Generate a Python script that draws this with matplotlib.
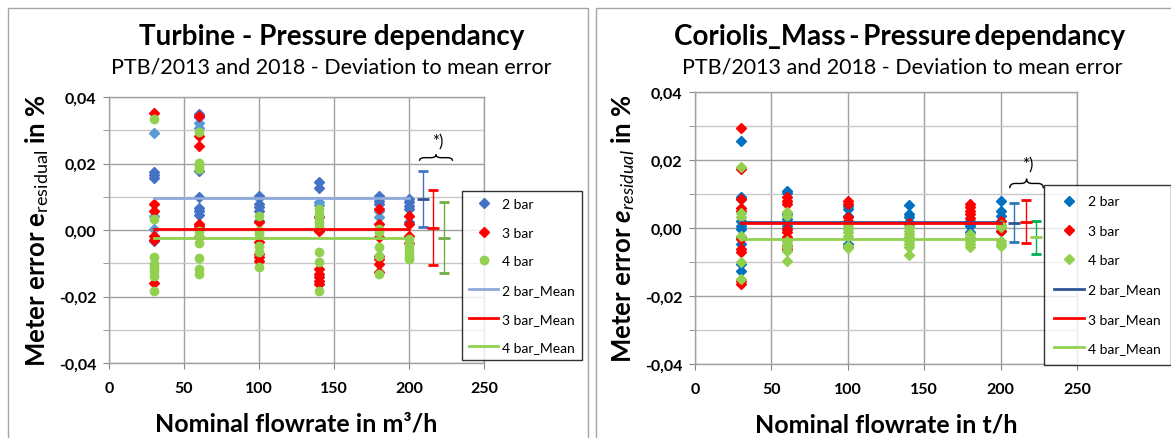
import matplotlib
matplotlib.use("Agg")
import matplotlib.pyplot as plt
from matplotlib.path import Path
from matplotlib.patches import PathPatch
from matplotlib.lines import Line2D
from matplotlib.ticker import MultipleLocator, FuncFormatter

plt.rcParams['font.family'] = ['Lato', 'DejaVu Sans']
plt.rcParams['mathtext.fontset'] = 'custom'
plt.rcParams['mathtext.rm'] = 'Lato'
plt.rcParams['mathtext.it'] = 'Lato:italic'
plt.rcParams['mathtext.bf'] = 'Lato:bold'
plt.rcParams['mathtext.bfit'] = 'Lato:bold:italic'

# ---------------- data ----------------
flows = [30, 60, 100, 140, 180, 200]

# Turbine (left)
turb_2bar_dark = [[0.0174, 0.0165, 0.0155, -0.0032],
                  [0.0349, 0.0339, 0.0178, 0.0098, 0.0065, 0.0058, 0.0045],
                  [0.0101, 0.0078, 0.0068, 0.0058, 0.0028],
                  [0.0143, 0.0125, 0.0038],
                  [0.0103, 0.0088, 0.0078],
                  [0.0093, 0.0083, 0.0073, 0.0063, 0.0023]]
turb_2bar_light = [[0.0291, 0.0042, 0.0003],
                   [0.0321, 0.0306],
                   [0.0096],
                   [0.0083, 0.0075],
                   [0.0058, 0.0038],
                   []]
turb_3bar = [[0.0352, 0.0078, 0.0058, -0.0017, -0.0029, -0.0159],
             [0.0342, 0.0284, 0.0252, 0.0018, 0.0011, -0.0022],
             [0.0023, -0.0037, -0.0072, -0.0082, -0.0092],
             [0.0038, -0.0002, -0.0117, -0.0132, -0.0142, -0.0152, -0.0162],
             [0.0063, 0.0018, -0.0022, -0.0077, -0.0087, -0.0102, -0.0127],
             [0.0041, 0.0018, -0.0017, -0.0039]]
turb_4bar = [[0.0334, 0.0033, -0.0080, -0.0102, -0.0111, -0.0122, -0.0138, -0.0182],
             [0.0294, 0.0202, 0.0193, 0.0183, -0.0002, -0.0017, -0.0039, -0.0085, -0.0117, -0.0132],
             [0.0043, -0.0002, -0.0012, -0.0047, -0.0066, -0.0112],
             [0.0063, 0.0048, 0.0038, 0.0023, 0.0013, -0.0067, -0.0097, -0.0182],
             [0.0003, -0.0007, -0.0052, -0.0077, -0.0132],
             [-0.0027, -0.0042, -0.0055, -0.0067, -0.0077, -0.0087]]
turb_means = [0.0097, 0.0003, -0.0024]
turb_err_x = [209, 216, 223]
turb_err_center = [0.0094, 0.0007, -0.0023]
turb_err_half = [0.0084, 0.0112, 0.0107]

# Coriolis (right)
cor_2bar = [[0.0257, 0.0090, 0.0085, 0.0021, 0.0007, -0.0003, -0.0027, -0.0047, -0.0106, -0.0126],
            [0.0110, 0.0103, 0.0041, 0.0026, 0.0007, -0.0003],
            [0.0066, 0.0056, 0.0036, -0.0047],
            [0.0068, 0.0041, 0.0031, 0.0019, 0.0012],
            [0.0021, 0.0012, 0.0007, -0.0013],
            [0.0080, 0.0051, 0.0036, -0.0008]]
cor_3bar = [[0.0293, 0.0174, 0.0085, 0.0058, 0.0051, -0.0032, -0.0062, -0.0070, -0.0155, -0.0165],
            [0.0090, 0.0080, 0.0071, -0.0003, -0.0013, -0.0027, -0.0052, -0.0062],
            [0.0080, 0.0071, 0.0031, 0.0021, -0.0055],
            [0.0015],
            [0.0071, 0.0061, 0.0051, 0.0041, 0.0028],
            [0.0021, -0.0008]]
cor_4bar = [[0.0180, 0.0044, 0.0031, -0.0023, -0.0101, -0.0150],
            [0.0046, 0.0036, -0.0037, -0.0047, -0.0057, -0.0067, -0.0096],
            [0.0007, -0.0003, -0.0013, -0.0023, -0.0052, -0.0060],
            [0.0002, -0.0008, -0.0018, -0.0027, -0.0037, -0.0047, -0.0057, -0.0079],
            [-0.0018, -0.0027, -0.0037, -0.0047, -0.0057],
            [0.0009, 0.0002, -0.0037, -0.0047, -0.0052]]
cor_means = [0.0017, 0.0016, -0.0032]
cor_err_x = [209, 216.5, 223]
cor_err_center = [0.0016, 0.0019, -0.0027]
cor_err_half = [0.0058, 0.0064, 0.0048]

series_labels = ["2 bar", "3 bar", "4 bar"]
mean_labels = ["2 bar_Mean", "3 bar_Mean", "4 bar_Mean"]
yticks = [-0.04, -0.02, 0.0, 0.02, 0.04]
xticks = [0, 50, 100, 150, 200, 250]


def flatten(groups):
    xs, ys = [], []
    for f, vals in zip(flows, groups):
        xs += [f] * len(vals)
        ys += vals
    return xs, ys


W, H = 1171, 439
fig = plt.figure(figsize=(W / 100, H / 100), dpi=100)


def fx(px):
    return px / W


def fy(py):
    return 1 - py / H


# panel frames
frame_col = "#A6A6A6"
for (x0, x1) in [(8, 588), (596, 1180)]:
    fig.add_artist(Line2D([fx(x0), fx(x0), fx(x1), fx(x1)],
                          [fy(445), fy(9), fy(9), fy(445)],
                          color=frame_col, lw=1.0, transform=fig.transFigure))

ax1 = fig.add_axes([fx(109), fy(364), fx(484) - fx(109), fy(98) - fy(364)])
ax2 = fig.add_axes([fx(695), fy(365), fx(1077) - fx(695), fy(93) - fy(365)])


def style_axis(ax):
    ax.set_xlim(0, 250)
    ax.set_ylim(-0.04, 0.04)
    ax.set_xticks(xticks)
    ax.set_yticks(yticks)
    ax.yaxis.set_minor_locator(MultipleLocator(0.01))
    ax.yaxis.set_major_formatter(FuncFormatter(lambda v, p: f"{v:.2f}".replace(".", ",").replace("-0,00", "0,00")))
    ax.grid(True, which="major", axis="both", color="#A0A0A0", lw=1.0, zorder=0)
    ax.grid(True, which="minor", axis="y", color="#C8C8C8", lw=1.0, zorder=0)
    ax.set_axisbelow(True)
    for s in ax.spines.values():
        s.set_color("#A0A0A0")
        s.set_linewidth(1.0)
    ax.tick_params(axis="both", which="major", direction="out", length=4, color="#868686",
                   labelsize=11.5, pad=5)
    ax.tick_params(axis="y", which="minor", direction="out", length=4, color="#868686")
    ax.tick_params(axis="x", which="major", pad=9)
    for lab in ax.get_xticklabels() + ax.get_yticklabels():
        lab.set_fontweight("bold")


def draw_brace(ax, x0, x1, ybase, ytip, color="black"):
    xm = (x0 + x1) / 2
    ymid = (ybase + ytip) / 2
    dx = (x1 - x0) * 0.08
    verts = [(x0, ybase), (x0, ymid), (x0 + 2 * dx, ymid),
             (xm - 2 * dx, ymid), (xm, ymid), (xm, ytip),
             (xm, ymid), (xm + 2 * dx, ymid),
             (x1 - 2 * dx, ymid), (x1, ymid), (x1, ybase)]
    codes = [Path.MOVETO, Path.CURVE3, Path.CURVE3,
             Path.LINETO, Path.CURVE3, Path.CURVE3,
             Path.CURVE3, Path.CURVE3,
             Path.LINETO, Path.CURVE3, Path.CURVE3]
    ax.add_patch(PathPatch(Path(verts, codes), fill=False, edgecolor=color, lw=1.0, clip_on=False))


legend_kw = dict(loc="upper left", bbox_transform=fig.transFigure, borderaxespad=0,
                 frameon=True, fancybox=False, edgecolor="black", fontsize=10,
                 handlelength=2.1, handletextpad=0.3)

# ---------------- left: turbine ----------------
c2, c3, c4 = "#4472C4", "#FF0000", "#92D050"
xs, ys = flatten(turb_2bar_light)
ax1.plot(xs, ys, "D", color="#5B9BD5", ms=5.5, ls="none", zorder=3)
xs, ys = flatten(turb_2bar_dark)
h2, = ax1.plot(xs, ys, "D", color=c2, ms=5.5, ls="none", zorder=3, label=series_labels[0])
xs, ys = flatten(turb_3bar)
h3, = ax1.plot(xs, ys, "D", color=c3, ms=5.5, ls="none", zorder=3, label=series_labels[1])
xs, ys = flatten(turb_4bar)
h4, = ax1.plot(xs, ys, "o", color=c4, ms=6, ls="none", zorder=3, label=series_labels[2])
mean_cols1 = ["#8EA9DB", "#FF0000", "#92D050"]
mh1 = []
for m, col, lab in zip(turb_means, mean_cols1, mean_labels):
    h, = ax1.plot([min(flows), max(flows)], [m, m], color=col, lw=2.0, zorder=4, label=lab)
    mh1.append(h)
err_cols1 = ["#4472C4", "#FF0000", "#70AD47"]
center_cols1 = ["#2F5597", "#FF0000", "#70AD47"]
for xe, ce, he, col, cc in zip(turb_err_x, turb_err_center, turb_err_half, err_cols1, center_cols1):
    ax1.errorbar([xe], [ce], yerr=[he], fmt="_", color=cc, ecolor=col, ms=9, mew=2,
                 capsize=3.5, elinewidth=1.0, capthick=1.0, zorder=4)
draw_brace(ax1, 207, 229, 0.0208, 0.0227)
ax1.text(219, 0.0243, "*)", ha="center", va="bottom", fontsize=12)

style_axis(ax1)
ax1.set_xlabel("Nominal flowrate in m³/h", fontsize=18, fontweight="bold", labelpad=12)
ax1.set_ylabel(r"Meter error $\mathbf{e}_{\mathrm{residual}}$ in %", fontsize=18.5,
               fontweight="bold", labelpad=6)
fig.text(fx(332), fy(37), "Turbine - Pressure dependancy", ha="center", va="center",
         fontsize=20, fontweight="bold")
fig.text(fx(331), fy(68), "PTB/2013 and 2018 - Deviation to mean error", ha="center",
         va="center", fontsize=15.5)

leg1 = fig.legend(handles=[h2, h3, h4] + mh1, bbox_to_anchor=(fx(462), fy(192)),
                  labelspacing=1.2, borderpad=0.5, **legend_kw)
leg1.get_frame().set_linewidth(1.0)

# ---------------- right: coriolis ----------------
d2, d3, d4 = "#0070C0", "#FF0000", "#92D050"
xs, ys = flatten(cor_2bar)
g2, = ax2.plot(xs, ys, "D", color=d2, ms=5.5, ls="none", zorder=3, label=series_labels[0])
xs, ys = flatten(cor_3bar)
g3, = ax2.plot(xs, ys, "D", color=d3, ms=5.5, ls="none", zorder=3, label=series_labels[1])
xs, ys = flatten(cor_4bar)
g4, = ax2.plot(xs, ys, "D", color=d4, ms=5.5, ls="none", zorder=3, label=series_labels[2])
mean_cols2 = ["#2F5597", "#FF0000", "#92D050"]
mh2 = []
for m, col, lab in zip(cor_means, mean_cols2, mean_labels):
    h, = ax2.plot([min(flows), max(flows)], [m, m], color=col, lw=2.0, zorder=4, label=lab)
    mh2.append(h)
err_cols2 = ["#2E75B6", "#FF0000", "#00B050"]
center_cols2 = ["#2F5597", "#FF0000", "#92D050"]
for xe, ce, he, col, cc in zip(cor_err_x, cor_err_center, cor_err_half, err_cols2, center_cols2):
    ax2.errorbar([xe], [ce], yerr=[he], fmt="_", color=cc, ecolor=col, ms=9, mew=2,
                 capsize=3.5, elinewidth=1.0, capthick=1.0, zorder=4)
draw_brace(ax2, 206, 228, 0.0117, 0.0145)
ax2.text(218, 0.0163, "*)", ha="center", va="bottom", fontsize=12)

style_axis(ax2)
ax2.set_xlabel("Nominal flowrate in t/h", fontsize=18, fontweight="bold", labelpad=12)
ax2.set_ylabel(r"Meter error $\mathbfit{e}_{\mathit{residual}}$ in %", fontsize=18.5,
               fontweight="bold", labelpad=6)
fig.text(fx(900), fy(37), "Coriolis_Mass\u2009-\u2009Pressure\u2009dependancy", ha="center",
         va="center", fontsize=20, fontweight="bold")
fig.text(fx(902), fy(68), "PTB/2013 and 2018 - Deviation to mean error", ha="center",
         va="center", fontsize=15.5)

leg2 = fig.legend(handles=[g2, g3, g4] + mh2, bbox_to_anchor=(fx(1044), fy(186)),
                  labelspacing=1.25, borderpad=0.75, **legend_kw)
leg2.get_frame().set_linewidth(1.0)

fig.savefig("out.png", dpi=100)
